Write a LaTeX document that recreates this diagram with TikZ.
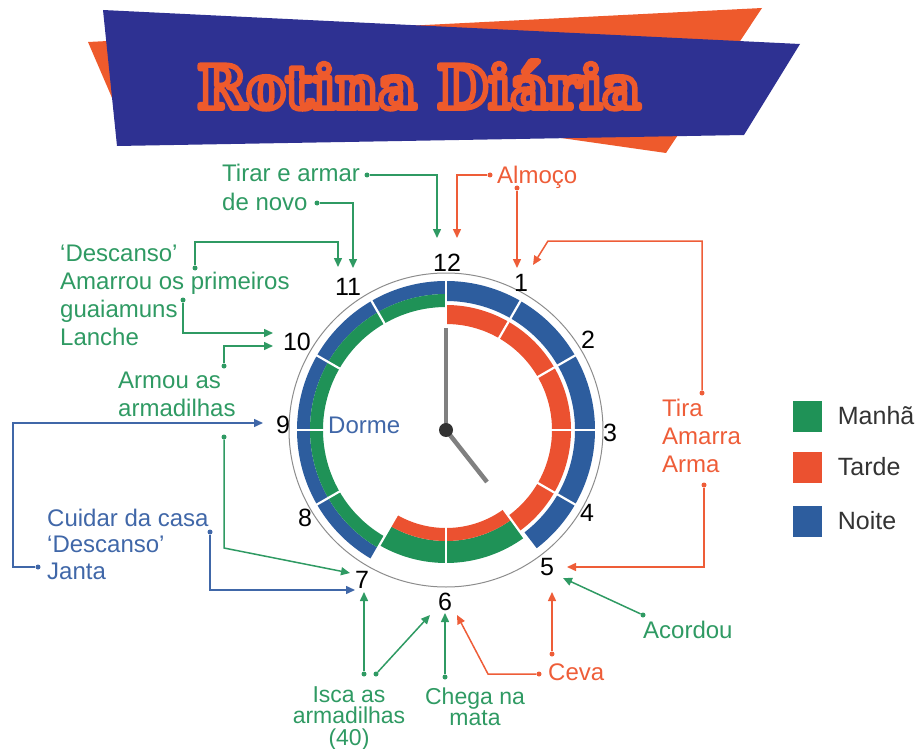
\documentclass[tikz,border=0pt]{standalone}
\usepackage{fontspec}
\setmainfont{Liberation Sans}
\newfontfamily\titlefont{DejaVu Serif}
\usetikzlibrary{arrows.meta,calc,positioning}
\definecolor{banblue}{HTML}{2E3192}
\definecolor{banorange}{HTML}{EE5A2C}
\definecolor{noite}{HTML}{2D5D9E}
\definecolor{manha}{HTML}{1F9257}
\definecolor{tarde}{HTML}{EB5130}
\definecolor{lmanha}{HTML}{2F9A63}
\definecolor{ltarde}{HTML}{EE5D38}
\definecolor{lnoite}{HTML}{4067A8}
\newcommand{\titletext}{\titlefont\bfseries\fontsize{59}{59}\selectfont\special{pdf:literal direct 2 Tr 5.5 w 1 j 0.933 0.353 0.173 RG}Rotina Diária\special{pdf:literal direct 0 Tr}}
\newcommand{\ringpart}[5]{\fill[#1] ({30*#2-90}:#4) arc[start angle={30*#2-90},end angle={30*#3-90},radius=#4] -- ({30*#3-90}:#5) arc[start angle={30*#3-90},end angle={30*#2-90},radius=#5] -- cycle;}

\begin{document}
\begin{tikzpicture}[x=1pt,y=-1pt]
\tikzstyle{lab}=[inner sep=0pt,anchor=west,align=left,font=\fontsize{24}{28}\selectfont]
\tikzstyle{tight}=[inner sep=0pt,align=center,font=\fontsize{23}{21.5}\selectfont]
\tikzstyle{num}=[inner sep=0pt,font=\fontsize{25}{25}\selectfont]
\tikzstyle{dot}=[circle,fill,inner sep=0pt,minimum size=5pt]
\tikzstyle{con}=[line width=1.5pt,-{Triangle[length=9pt,width=8pt]}]
\tikzstyle{legbox}=[minimum width=29pt,minimum height=31pt,inner sep=0pt]
\tikzstyle{legtext}=[inner sep=0pt,text=black!80,font=\fontsize{25}{25}\selectfont]
\tikzstyle{gr}=[color=lmanha]
\tikzstyle{og}=[color=ltarde]
\tikzstyle{bl}=[color=lnoite]

\useasboundingbox (0,0) rectangle (916,749);

\fill[banorange] (88,42) -- (762,8) -- (666,153) -- (400,115) -- (125,128) -- cycle;
\fill[banblue] (103,10) -- (800,44) -- (744,135) -- (117,146) -- cycle;
\node[inner sep=0pt,text=banblue] (title) at (419,85) {\titletext};

\coordinate (ctr) at (446,430);
\begin{scope}[shift={(ctr)}]
  \ringpart{noite}{7}{12}{136}{149}
  \ringpart{noite}{12}{16.75}{129}{149}
  \ringpart{manha}{7}{12}{123}{136}
  \ringpart{manha}{4.8}{7}{111}{133}
  \ringpart{tarde}{0}{4.8}{106}{125}
  \ringpart{tarde}{4.8}{7}{98}{111}
  \foreach \h in {1,2,3,4,4.8,6,7,8,9,10,11,12}
    \draw[white,line width=2.2pt] ({30*\h-90}:94) -- ({30*\h-90}:152);
  \draw[black!45,line width=1pt] (0,0) circle[radius=157];
\end{scope}
\draw[black!50,line width=4.5pt] (ctr) -- ++(0,-102);
\draw[black!50,line width=4.5pt] (ctr) -- ++(41,52);
\fill[black!80] (ctr) circle[radius=7];
\node[lab,bl] (dorme) at (328,425) {Dorme};

\foreach \n/\x/\y in {12/447/263,1/521/283,2/588/340,3/610/433,4/587/513,5/547/567,6/445/602,7/362/580,8/305/518,9/283/425,10/297/342,11/348/287}
  \node[num] (n\n) at (\x,\y) {\n};

\node[lab,gr] (tirar) at (222,173) {Tirar e armar};
\node[lab,gr] (denovo) at (222,202) {de novo};
\node[lab,gr] (descanso) at (60,295) {‘Descanso’\\Amarrou os primeiros\\guaiamuns\\Lanche};
\node[lab,gr] (armou) at (118,394) {Armou as\\armadilhas};
\node[tight,gr] (isca) at (349,718) {Isca as\\armadilhas\\(40)};
\node[tight,gr] (chega) at (475,707) {Chega na\\mata};
\node[lab,gr] (acordou) at (643,630) {Acordou};
\node[lab,og] (almoco) at (497,177) {Almoço};
\node[lab,og] (tira) at (662,436) {Tira\\Amarra\\Arma};
\node[lab,og] (ceva) at (548,672) {Ceva};
\node[lab,bl,font=\fontsize{24}{26.5}\selectfont] (cuidar) at (47,544) {Cuidar da casa\\‘Descanso’\\Janta};

\node[dot,gr] (d1) at (367,175) {};
\node[dot,gr] (d2) at (317,203) {};
\node[dot,gr] (d3) at (195,268) {};
\node[dot,gr] (d4) at (183,300) {};
\node[dot,gr] (d5) at (224,366) {};
\node[dot,gr] (d6) at (224,437) {};
\node[dot,gr] (d7) at (364,674) {};
\node[dot,gr] (d8) at (376,674) {};
\node[dot,gr] (d9) at (445,677) {};
\node[dot,gr] (d10) at (643,615) {};
\coordinate (e1) at (437,238);
\coordinate (e2) at (353,268);
\coordinate (e3) at (338,267);
\coordinate (e4) at (273,333);
\coordinate (e5) at (273,346);
\coordinate (e6) at (350,573);
\coordinate (e7) at (364,592);
\coordinate (e8) at (430,615);
\coordinate (e9) at (445,613);
\coordinate (e10) at (563,578);
\draw[con,gr] (d1) -| (e1);
\draw[con,gr] (d2) -| (e2);
\draw[con,gr] (d3) -- ++(0,-26) -| (e3);
\draw[con,gr] (d4) |- (e4);
\draw[con,gr] (d5) |- (e5);
\draw[con,gr] (d6) -- ++(0,111) -- (e6);
\draw[con,gr] (d7) -- (e7);
\draw[con,gr] (d8) -- (e8);
\draw[con,gr] (d9) -- (e9);
\draw[con,gr] (d10) -- (e10);

\node[dot,og] (o1) at (490,175) {};
\node[dot,og] (o2) at (517,188) {};
\node[dot,og] (o3) at (702,393) {};
\node[dot,og] (o4) at (704,485) {};
\node[dot,og] (o5) at (552,654) {};
\node[dot,og] (o6) at (539,674) {};
\coordinate (f1) at (457,238);
\coordinate (f2) at (517,268);
\coordinate (f3) at (533,265);
\coordinate (f4) at (567,567);
\coordinate (f5) at (552,592);
\coordinate (f6) at (457,615);
\draw[con,og] (o1) -| (f1);
\draw[con,og] (o2) -- (f2);
\draw[con,og] (o3) -- ++(0,-152) -- ++(-154,0) -- (f3);
\draw[con,og] (o4) |- (f4);
\draw[con,og] (o5) -- (f5);
\draw[con,og] (o6) -- ++(-51,0) -- (f6);

\node[dot,bl] (b1) at (210,532) {};
\node[dot,bl] (b2) at (38,567) {};
\coordinate (g1) at (355,590);
\coordinate (g2) at (263,423);
\draw[con,bl] (b1) |- (g1);
\draw[con,bl] (b2) -- ++(-25,0) |- (g2);

\node[legbox,fill=manha] (lm) at (807,416) {};
\node[legtext,right=16pt of lm] (tm) {Manhã};
\node[legbox,fill=tarde] (lt) at (807,467) {};
\node[legtext,right=16pt of lt] (tt) {Tarde};
\node[legbox,fill=noite] (ln) at (807,521) {};
\node[legtext,right=16pt of ln] (tn) {Noite};
\end{tikzpicture}
\end{document}
